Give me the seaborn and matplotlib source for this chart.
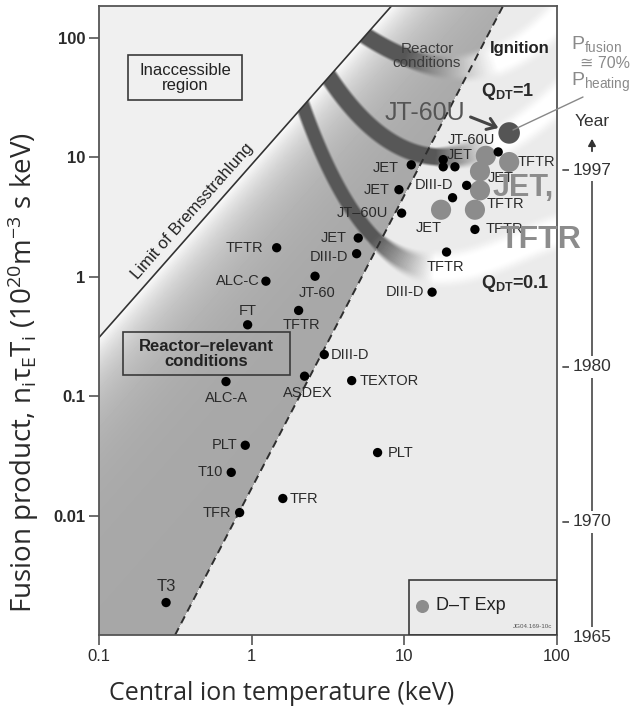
import numpy as np
import pandas as pd
import matplotlib
matplotlib.use("Agg")
import matplotlib.pyplot as plt
import seaborn as sns
from matplotlib.patches import Polygon, Rectangle, FancyArrowPatch

# ---------------- data ----------------
DEVICE = ["T3", "TFR", "T10", "PLT", "TFR", "PLT", "ALC-A", "ASDEX", "TEXTOR", "DIII-D",
          "FT", "TFTR", "ALC-C", "JT-60", "TFTR", "DIII-D", "JET", "JT–60U", "JET", "JET",
          "", "", "", "DIII-D", "", "JT-60U", "TFTR", "TFTR", "DIII-D"]
TEMP = [0.275, 0.834, 0.735, 0.908, 1.60, 6.68, 0.679, 2.22, 4.52, 2.99,
        0.941, 2.03, 1.24, 2.60, 1.458, 4.87, 4.99, 9.60, 9.22, 11.1,
        17.98, 17.98, 21.45, 25.6, 20.7, 41.2, 29.0, 18.9, 15.2]
PRODUCT = [0.00187, 0.0106, 0.0230, 0.0388, 0.0139, 0.0337, 0.1325, 0.147, 0.135, 0.223,
           0.396, 0.522, 0.918, 1.01, 1.75, 1.56, 2.11, 3.41, 5.36, 8.65,
           9.57, 8.33, 8.33, 5.82, 4.59, 11.1, 2.49, 1.61, 0.743]

DT_DEVICE = ["JET", "TFTR", "JET", "", "JET", "TFTR"]
DT_TEMP = [34.2, 48.6, 31.3, 31.3, 17.4, 29.0]
DT_PRODUCT = [10.3, 9.13, 7.63, 5.29, 3.64, 3.64]

JT60U_DT_TEMP = [48.6]
JT60U_DT_PRODUCT = [16.0]

BREMS_T = [0.1, 10.0]
BREMS_P = [0.31, 245.0]
RR_T = [0.315, 45.0]
RR_P = [0.001, 192.0]

IGN_T = [5.36, 8.41, 14.7, 26.9, 45.6, 66.5, 94.0]
IGN_P = [109, 74.5, 61.4, 57.9, 67.6, 92.0, 135.5]
Q1_T = [3.26, 5.69, 10.4, 17.9, 32.7, 54.6, 85.9]
Q1_P = [46.9, 17.8, 12.1, 10.4, 11.5, 15.9, 26.2]
Q01_T = [2.17, 2.68, 3.78, 5.96, 11.4, 19.9, 51.4, 98.4]
Q01_P = [27.3, 13.9, 5.28, 2.01, 1.51, 1.17, 1.57, 2.45]

YEAR_LABELS = ["1997", "1980", "1970", "1965"]
YEAR_POS = [7.78, 0.177, 0.00889, 0.000948]

X_TICKS = [0.1, 1, 10, 100]
X_TICKLABELS = ["0.1", "1", "10", "100"]
Y_TICKS = [0.01, 0.1, 1, 10, 100]
Y_TICKLABELS = ["0.01", "0.1", "1", "10", "100"]

# ---------------- label placement (image pixels: dx, dy-down, ha) ----------------
LABEL_OFFSET = [(0, -16, 'center'), (-8, 0, 'right'), (-8, 0, 'right'), (-8, 0, 'right'),
                (7, 0, 'left'), (10, 0, 'left'), (0, 16, 'center'), (3, 17, 'center'),
                (8, 0, 'left'), (6, 0, 'left'), (0, -14, 'center'), (3, 15, 'center'),
                (-6, 0, 'right'), (2, 17, 'center'), (-13, 0, 'right'), (-8, 3, 'right'),
                (-11, 0, 'right'), (-13, 0, 'right'), (-9, 0, 'right'), (-12, 3, 'right'),
                None, None, None, (-13, 0, 'right'), None, (-3, -12, 'right'),
                (11, 0, 'left'), (-1, 15, 'center'), (-8, 0, 'right')]
DT_OFFSET = [(-13, -1, 'right'), (8, 0, 'left'), (8, 7, 'left'), None, (-12, 18, 'center'), (12, -6, 'left')]

# ---------------- style ----------------
sns.set_theme(style="white")
plt.rcParams['font.family'] = ['Liberation Sans', 'DejaVu Sans']
plt.rcParams['mathtext.fontset'] = 'custom'
plt.rcParams['mathtext.rm'] = 'Liberation Sans'
plt.rcParams['mathtext.bf'] = 'Liberation Sans:bold'
plt.rcParams['mathtext.it'] = 'Liberation Sans:italic'

FW, FH = 631, 711
L, R, T, B = 99, 557, 6, 635
W, H = R - L, B - T

fig = plt.figure(figsize=(FW / 100, FH / 100), dpi=100)
fig.patch.set_facecolor('white')
rect = [L / FW, 1 - B / FH, W / FW, H / FH]
bg = fig.add_axes(rect, zorder=0)
bg.set_axis_off()
ax = fig.add_axes(rect, zorder=1)
ax.patch.set_alpha(0)
ax.set_xscale('log')
ax.set_yscale('log')
ax.set_xlim(0.1, 100)
ax.set_ylim(1e-3, 185)


def A(x, y):
    """image px -> axes fraction"""
    return ((x - L) / W, (B - y) / H)


def Fg(x, y):
    return (x / FW, 1 - y / FH)


def to_px(t, p):
    d = ax.transData.transform(np.column_stack([t, p]))
    a = ax.transAxes.transform([[0, 0], [1, 1]])
    return (d - a[0]) / (a[1] - a[0]) * np.array([W, H])

# ---------------- background regions ----------------
xx, yy = np.meshgrid(np.arange(W) + 0.5, np.arange(H) + 0.5)
b0, b1 = to_px(BREMS_T, BREMS_P)
tb = (b1 - b0) / np.hypot(*(b1 - b0))
d_b = (xx - b0[0]) * tb[1] - (yy - b0[1]) * tb[0]
r0, r1 = to_px(RR_T, RR_P)
tr = (r1 - r0) / np.hypot(*(r1 - r0))
d_r = (xx - r0[0]) * tr[1] - (yy - r0[1]) * tr[0]

img = np.full((H, W), 0.92)
img[d_b < 0] = 0.94
gray = (d_b >= 0) & (d_r <= 0)
g = 0.655 + (0.985 - 0.655) * np.exp(-np.clip(d_b, 0, None) / 32.0)
img[gray] = g[gray]


# ---------------- curved Q bands (painted into the background) ----------------
def band_layer(Tv, Pv, dark_end, white_at, hw_d, hw_l, soft_d, soft_l):
    lx, ly = np.log10(Tv), np.log10(Pv)
    c = np.polyfit(lx, ly, 3)
    xs = np.linspace(lx[0] - 0.15, 2.1, 500)
    ys = np.polyval(c, xs)
    P = to_px(10 ** xs, 10 ** ys)
    f_pts = np.clip((xs - dark_end) / (white_at - dark_end), 0, 1)
    out_a = np.zeros((H, W))
    out_c = np.zeros((H, W))
    step = 16
    for s0 in range(0, H, step):
        sl = slice(s0, min(s0 + step, H))
        X = xx[sl][..., None]
        Y = yy[sl][..., None]
        D = np.hypot(X - P[:, 0], Y - P[:, 1])
        idx = D.argmin(-1)
        dist = np.take_along_axis(D, idx[..., None], -1)[..., 0]
        # signed side (below the curve -> shadow)
        f = f_pts[idx]
        hw = hw_d + (hw_l - hw_d) * f
        soft = soft_d + (soft_l - soft_d) * f
        a = np.clip((hw + soft - dist) / (2 * soft), 0, 1)
        a = a * a * (3 - 2 * a)
        out_a[sl] = a
        out_c[sl] = 0.34 + (1.0 - 0.34) * f
    return out_a, out_c


below = d_b >= 0
for args in [(IGN_T, IGN_P, 1.0, 1.6, 8.5, 13, 2.0, 7),
             (Q1_T, Q1_P, 1.2, 1.6, 8.5, 13, 2.0, 7),
             (Q01_T, Q01_P, 0.8, 1.2, 7.0, 14, 2.0, 7)]:
    a, c = band_layer(*args)
    blend = img * (1 - a) + c * a
    img = np.where(below, blend, img)

bg.imshow(img, cmap='gray', vmin=0, vmax=1, extent=(0, W, 0, H), origin='lower',
          aspect='auto', interpolation='bilinear')
bg.set_xlim(0, W)
bg.set_ylim(0, H)

# ---------------- boundary lines ----------------
ax.plot(BREMS_T, BREMS_P, color='#333333', lw=1.2, zorder=2)
ax.plot(RR_T, RR_P, color='#2e2e2e', lw=1.4, ls=(0, (4, 2.8)), zorder=2)

# ---------------- data points ----------------
sns.scatterplot(x=DT_TEMP, y=DT_PRODUCT, ax=ax, color='#8c8c8c', s=210,
                edgecolor='none', zorder=4, legend=False)
sns.scatterplot(x=JT60U_DT_TEMP, y=JT60U_DT_PRODUCT, ax=ax, color='#555555', s=240,
                edgecolor='none', zorder=4, legend=False)
sns.scatterplot(x=TEMP, y=PRODUCT, ax=ax, color='black', s=45,
                edgecolor='none', zorder=5, legend=False)

for name, t, p, off in zip(DEVICE, TEMP, PRODUCT, LABEL_OFFSET):
    if not name or off is None:
        continue
    dx, dy, ha = off
    ax.annotate(name, (t, p), xytext=(dx, -dy), textcoords='offset pixels',
                ha=ha, va='center', fontsize=10.5 if name != 'T3' else 12,
                color='#2a2a2a', zorder=6)
for name, t, p, off in zip(DT_DEVICE, DT_TEMP, DT_PRODUCT, DT_OFFSET):
    if not name or off is None:
        continue
    dx, dy, ha = off
    ax.annotate(name, (t, p), xytext=(dx, -dy), textcoords='offset pixels',
                ha=ha, va='center', fontsize=10.5, color='#2a2a2a', zorder=6)

# ---------------- region labels ----------------
for (x0, y0, x1, y1) in [(128, 55, 242, 100), (123, 332, 290, 375)]:
    ax.add_patch(Rectangle(A(x0, y1), (x1 - x0) / W, (y1 - y0) / H, transform=ax.transAxes,
                           fc='none', ec='#3a3a3a', lw=1.2, zorder=6))
ax.text(*A(185, 78), "Inaccessible\nregion", transform=ax.transAxes, ha='center', va='center',
        fontsize=12, color='#222222', linespacing=1.0, zorder=6)
ax.text(*A(206.5, 354), "Reactor–relevant\nconditions", transform=ax.transAxes, ha='center',
        va='center', fontsize=12, fontweight='bold', color='#222222', linespacing=1.0, zorder=6)

ang = np.degrees(np.arctan2((b1 - b0)[1], (b1 - b0)[0]))
ax.text(*A(192, 211), "Limit of Bremsstrahlung", transform=ax.transAxes, rotation=ang,
        rotation_mode='anchor', ha='center', va='center', fontsize=12, color='#222222', zorder=6)

ax.text(*A(427, 56), "Reactor\nconditions", transform=ax.transAxes, ha='center', va='center',
        fontsize=11, color='#3c3c3c', linespacing=0.95, zorder=6)
ax.text(*A(520, 48), "Ignition", transform=ax.transAxes, ha='center', va='center',
        fontsize=12, fontweight='bold', color='#222222', zorder=6)
ax.text(*A(508, 92), r"Q$_\mathregular{DT}$=1", transform=ax.transAxes, ha='center', va='center',
        fontsize=13, fontweight='bold', color='#2a2a2a', zorder=6)
ax.text(*A(515, 283), r"Q$_\mathregular{DT}$=0.1", transform=ax.transAxes, ha='center', va='center',
        fontsize=13, fontweight='bold', color='#2a2a2a', zorder=6)

ax.text(*A(425, 113), "JT-60U", transform=ax.transAxes, ha='center', va='center',
        fontsize=18, color='#555555', zorder=6)
ax.text(*A(523, 188), "JET,", transform=ax.transAxes, ha='center', va='center',
        fontsize=22, fontweight='bold', color='#8c8c8c', zorder=6, clip_on=False)
ax.text(*A(541, 240), "TFTR", transform=ax.transAxes, ha='center', va='center',
        fontsize=23, fontweight='bold', color='#8c8c8c', zorder=6, clip_on=False)

ax.annotate('', xy=A(501, 129), xytext=A(468, 116), xycoords='axes fraction',
            textcoords='axes fraction',
            arrowprops=dict(arrowstyle='->,head_length=0.5,head_width=0.35', lw=2.2, color='#444444'),
            zorder=6)
ax.plot(*zip(A(513, 130), A(583, 97)), transform=ax.transAxes, color='#888888', lw=1.0,
        clip_on=False, zorder=6)

fig.text(*Fg(571, 44), r"P$_\mathregular{fusion}$", ha='left', va='center', fontsize=14, color='#8a8a8a')
fig.text(*Fg(580, 63), "≅ 70%", ha='left', va='center', fontsize=11.5, color='#8a8a8a',
         family=['Liberation Sans', 'DejaVu Sans'])
fig.text(*Fg(571, 82), r"P$_\mathregular{heating}$", ha='left', va='center', fontsize=14, color='#8a8a8a')

# ---------------- legend box ----------------
ax.add_patch(Rectangle(A(409, 635), (557 - 409) / W, (635 - 580) / H, transform=ax.transAxes,
                       fc='none', ec='#3a3a3a', lw=1.2, zorder=6))
ax.scatter(*A(422, 606), transform=ax.transAxes, s=70, color='#8c8c8c', zorder=6)
ax.text(*A(436, 606), "D–T Exp", transform=ax.transAxes, ha='left', va='center',
        fontsize=13, color='#222222', zorder=6)
ax.text(*A(552, 627), "JG04.169-10c", transform=ax.transAxes, ha='right', va='center',
        fontsize=4.5, color='#555555', zorder=6)

# ---------------- year axis ----------------
yt = ax.get_yaxis_transform()
xyear = (592 - L) / W
ax.plot([xyear, xyear], [YEAR_POS[0], YEAR_POS[-1]], transform=yt, color='#555555', lw=1.3,
        clip_on=False, zorder=6)
for lab, pos, tick in zip(YEAR_LABELS, YEAR_POS, [True, True, True, False]):
    ax.text(xyear, pos, lab, transform=yt, ha='center', va='center', fontsize=12.5, color='#333333',
            bbox=dict(fc='white', ec='none', pad=2.5), clip_on=False, zorder=7)
    if tick:
        ax.plot([(563 - L) / W, (571 - L) / W], [pos, pos], transform=yt, color='#555555', lw=1.3,
                clip_on=False, zorder=6)
fig.text(*Fg(592, 122), "Year", ha='center', va='center', fontsize=12.5, color='#333333')
fig.add_artist(FancyArrowPatch(Fg(592, 154), Fg(592, 136),
               transform=fig.transFigure, arrowstyle='-|>,head_length=4,head_width=2.2',
               color='#333333', lw=1.3))

# ---------------- axes styling ----------------
ax.set_xticks(X_TICKS)
ax.set_xticklabels(X_TICKLABELS)
ax.set_yticks(Y_TICKS)
ax.set_yticklabels(Y_TICKLABELS)
ax.xaxis.set_minor_locator(matplotlib.ticker.NullLocator())
ax.yaxis.set_minor_locator(matplotlib.ticker.NullLocator())
ax.tick_params(which='major', direction='out', length=7, width=1.2, color='#555555',
               labelsize=12, labelcolor='#2a2a2a', pad=3, bottom=True, left=True)
for lab in ax.get_yticklabels():
    lab.set_fontweight('bold')
for s in ax.spines.values():
    s.set_color('#555555')
    s.set_linewidth(1.3)
ax.set_xlabel('')
ax.set_ylabel('')

fig.text(*Fg(282, 693), "Central ion temperature (keV)", ha='center', va='center', fontsize=18,
         color='#2a2a2a', family=['Open Sans', 'DejaVu Sans'])
fig.text(*Fg(23, 373),
         r"Fusion product, n$_\mathregular{i}$τ$_\mathregular{E}$T$_\mathregular{i}$ "
         r"(10$^\mathregular{20}$m$^\mathregular{-3}$ s keV)",
         ha='center', va='center', rotation=90, fontsize=20, color='#2a2a2a',
         family=['Open Sans', 'DejaVu Sans'])

fig.savefig('out.png', dpi=100, facecolor='white')
